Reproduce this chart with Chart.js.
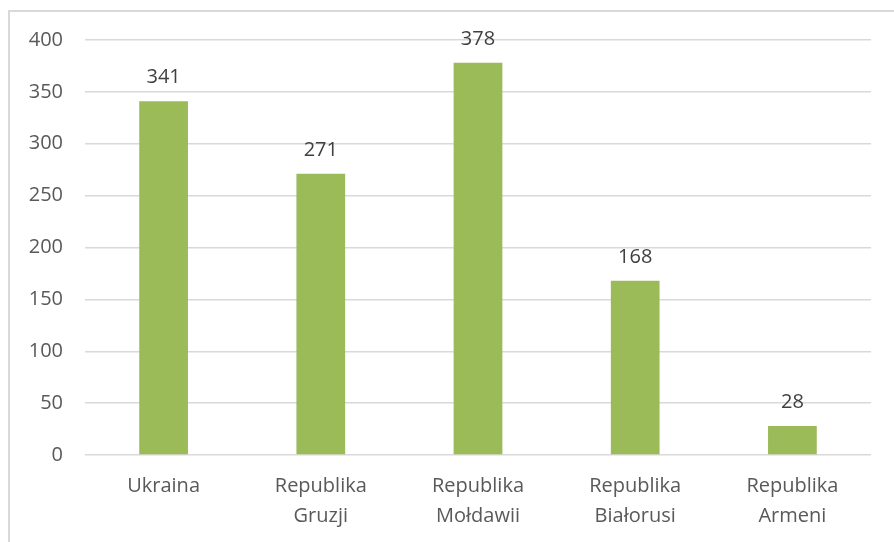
<!DOCTYPE html>
<html>
<head>
  <meta charset="utf-8">
  <title>Republiki</title>
  <script src="https://cdn.jsdelivr.net/npm/chart.js"></script>
  <style>
    body { margin: 0; background: #fff; }
    #wrap { position: relative; width: 894px; height: 542px; overflow: hidden; }
    #frame {
      position: absolute; left: 8px; top: 10px; width: 900px; height: 560px;
      border-left: 2px solid #d9d9d9; border-top: 2px solid #d9d9d9;
    }
    canvas { position: absolute; left: 0; top: 0; }
  </style>
</head>
<body>
  <div id="wrap">
    <div id="frame"></div>
    <canvas id="chart" width="894" height="542"></canvas>
  </div>

  <script>
    // data
    const categories = [['Ukraina'], ['Republika', 'Gruzji'], ['Republika', 'Mołdawii'], ['Republika', 'Białorusi'], ['Republika', 'Armeni']];
    const values = [341, 271, 378, 168, 28];
    const yTicks = [0, 50, 100, 150, 200, 250, 300, 350, 400];

    const FONT = '"Open Sans", sans-serif';

    // labels above bars
    const valueLabels = {
      id: 'valueLabels',
      afterDatasetsDraw(chart) {
        const ctx = chart.ctx;
        const meta = chart.getDatasetMeta(0);
        ctx.save();
        ctx.font = '20px ' + FONT;
        ctx.fillStyle = '#404040';
        ctx.textAlign = 'center';
        ctx.textBaseline = 'alphabetic';
        meta.data.forEach((bar, i) => {
          ctx.fillText(values[i], bar.x, bar.y - 18);
        });
        ctx.restore();
      }
    };

    new Chart(document.getElementById('chart'), {
      type: 'bar',
      data: {
        labels: categories,
        datasets: [{
          data: values,
          backgroundColor: '#9bbb59',
          categoryPercentage: 1,
          barPercentage: 0.31
        }]
      },
      options: {
        responsive: false,
        animation: false,
        layout: { padding: { top: 40, right: 23, left: 0, bottom: 0 } },
        plugins: { legend: { display: false }, tooltip: { enabled: false } },
        scales: {
          x: {
            grid: { display: false, drawTicks: false },
            border: { display: false },
            ticks: { color: '#595959', font: { family: FONT, size: 20, lineHeight: 1.5 }, padding: 16, maxRotation: 0 },
            afterFit: (s) => { s.height = 87; }
          },
          y: {
            min: 0, max: 400,
            afterBuildTicks: (s) => { s.ticks = yTicks.map(v => ({ value: v })); },
            grid: { color: '#d9d9d9', lineWidth: 1.5, drawTicks: false },
            border: { display: false },
            ticks: { color: '#595959', font: { family: FONT, size: 20 }, padding: 22 },
            afterFit: (s) => { s.width = 85; }
          }
        }
      },
      plugins: [valueLabels]
    });
  </script>
</body>
</html>
